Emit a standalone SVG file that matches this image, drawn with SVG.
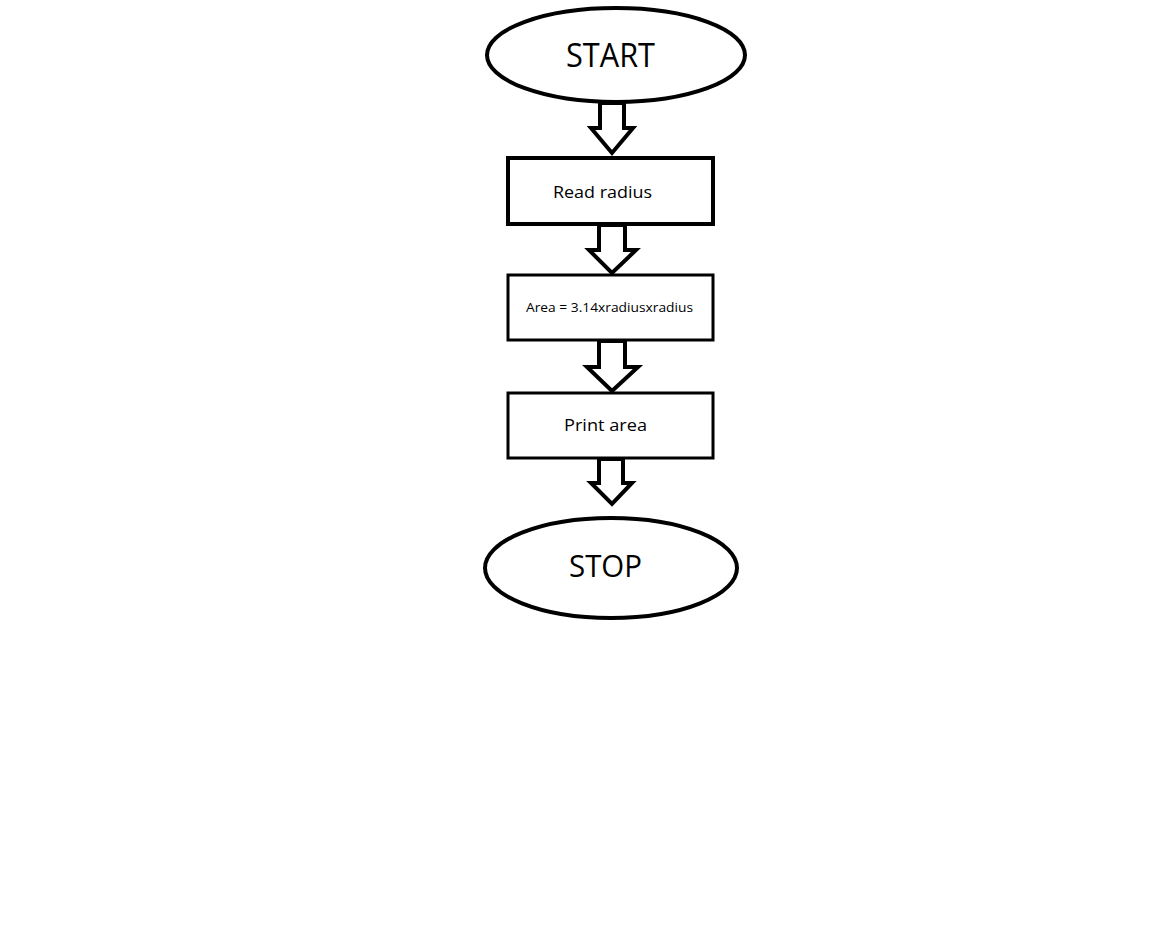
<svg xmlns="http://www.w3.org/2000/svg" width="1152" height="950" viewBox="0 0 1152 950">
  <style>
    .shape { fill: #fff; stroke: #000; stroke-width: 4; }
    .thin { stroke-width: 3; }
    .arrow { fill: #fff; stroke: #000; stroke-width: 4; stroke-linejoin: miter; }
    .lbl { font-family: "Open Sans", "Liberation Sans", Arial, sans-serif; fill: #000; text-anchor: start; }
  </style>
  <rect width="1152" height="950" fill="#fff"/>

  <!-- block arrows between the steps -->
  <g id="connectors">
    <path class="arrow" d="M600,103 V128 H591 L612,153 L633,128 H624 V103 Z"/>
    <path class="arrow" d="M599,225 V250 H589 L612,273 L636,250 H625 V225 Z"/>
    <path class="arrow" d="M599,341 V367 H587 L612,391 L638,367 H625 V341 Z"/>
    <path class="arrow" d="M599,459 V483 H591 L612,504 L632,483 H623 V459 Z"/>
  </g>

  <g id="start">
    <ellipse class="shape" cx="616" cy="55" rx="129" ry="47"/>
    <text class="lbl" x="566" y="67" font-size="32" textLength="89" lengthAdjust="spacingAndGlyphs">START</text>
  </g>

  <g id="read-radius">
    <rect class="shape" x="508" y="158" width="205" height="66" stroke-width="5"/>
    <text class="lbl" x="553" y="198" font-size="17" textLength="99" lengthAdjust="spacingAndGlyphs">Read radius</text>
  </g>

  <g id="compute-area">
    <rect class="shape thin" x="508" y="275" width="205" height="65"/>
    <text class="lbl" x="526" y="312" font-size="12.5" textLength="167" lengthAdjust="spacingAndGlyphs">Area = 3.14xradiusxradius</text>
  </g>

  <g id="print-area">
    <rect class="shape thin" x="508" y="393" width="205" height="65"/>
    <text class="lbl" x="564" y="431" font-size="17" textLength="83" lengthAdjust="spacingAndGlyphs">Print area</text>
  </g>

  <g id="stop">
    <ellipse class="shape" cx="611" cy="568" rx="126" ry="50"/>
    <text class="lbl" x="569" y="577" font-size="31" textLength="73" lengthAdjust="spacingAndGlyphs">STOP</text>
  </g>
</svg>
